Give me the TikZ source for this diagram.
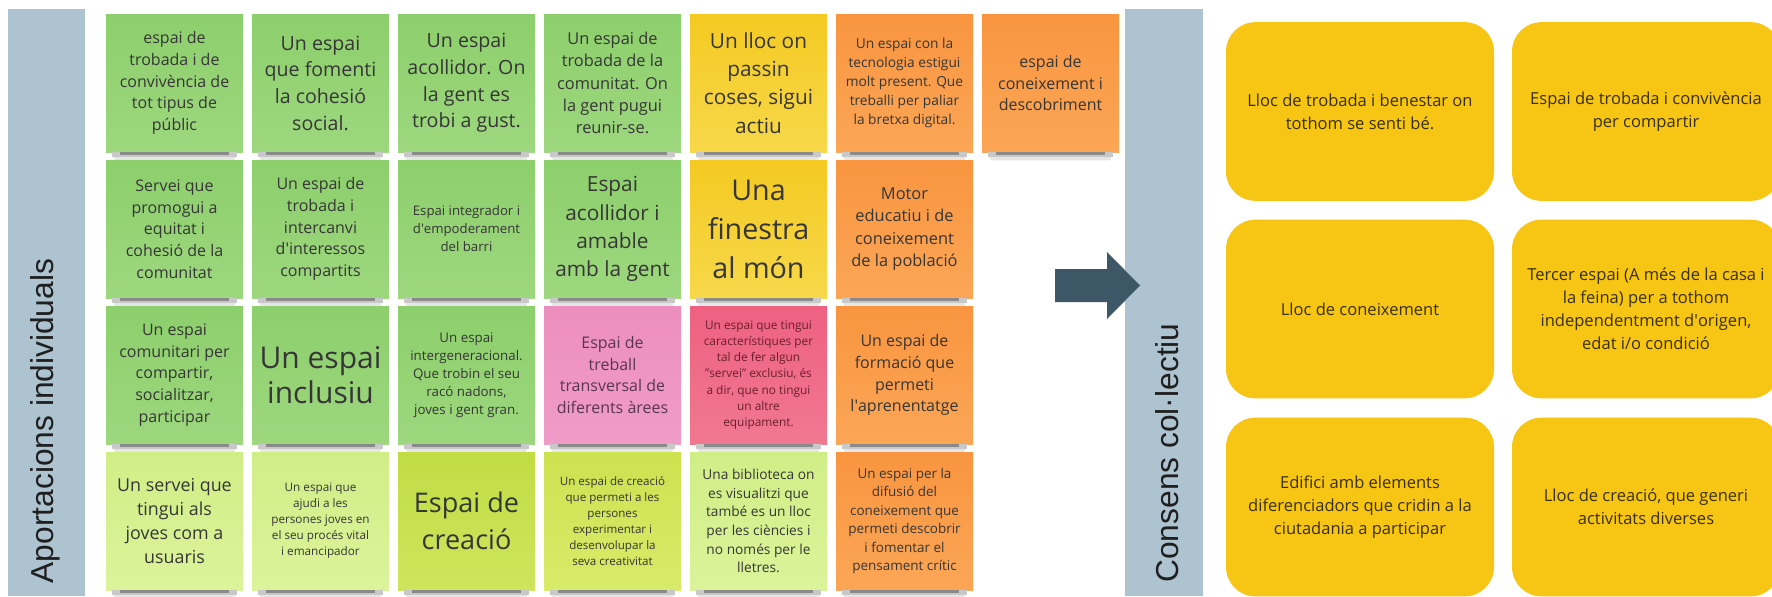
\documentclass[tikz,border=0pt]{standalone}
\usepackage{fontspec}
\setmainfont{Open Sans}
\newfontfamily\lblfont{Liberation Sans}
\usetikzlibrary{calc}

\definecolor{barc}{HTML}{AEC3D0}
\definecolor{arrowc}{HTML}{3E5766}
\definecolor{boxc}{HTML}{F7C513}
\definecolor{boxtext}{HTML}{3A3000}
\definecolor{ntext}{HTML}{363636}
\definecolor{ptext}{HTML}{5A3552}
\definecolor{rtext}{HTML}{6A1F2E}
\definecolor{gtop}{HTML}{8DCF6C}\definecolor{gbot}{HTML}{9DD77E}
\definecolor{ytop}{HTML}{F4CA22}\definecolor{ybot}{HTML}{F7D84A}
\definecolor{otop}{HTML}{F9953F}\definecolor{obot}{HTML}{FBA656}
\definecolor{ptop}{HTML}{EC8EBE}\definecolor{pbot}{HTML}{F09CC8}
\definecolor{rtop}{HTML}{EE6181}\definecolor{rbot}{HTML}{F17891}
\definecolor{ltop}{HTML}{D0EE86}\definecolor{lbot}{HTML}{DBF39A}
\definecolor{ctop}{HTML}{C2DC44}\definecolor{cbot}{HTML}{CEE55C}
\definecolor{dtop}{HTML}{CCE24F}\definecolor{dbot}{HTML}{D8EB6A}
\definecolor{shadowA}{HTML}{8A8A8A}
\definecolor{shadowB}{HTML}{C8C8C8}
\definecolor{shadowC}{HTML}{E6E6E6}

\newcommand{\q}{\textquotesingle}

% name, col, row, colour prefix, {size}{skip}, text, text colour
\newcommand{\stick}[7]{%
  \node[stickynote, top color=#4top, bottom color=#4bot, text=#7,
        font=\fontsize#5\selectfont]
       (#1) at ({174.5+146*(#2-1)},{83+146*(#3-1)}) {#6};
  \fill[shadowC, rounded corners=2pt] ($(#1.south west)+(8,0)$) rectangle ($(#1.south east)+(-8,8)$);
  \fill[shadowB] ($(#1.south west)+(6,0)$) rectangle ($(#1.south east)+(-6,5)$);
  \fill[shadowA] ($(#1.south west)+(14,0)$) rectangle ($(#1.south east)+(-14,2.5)$);
}

\begin{document}
\begin{tikzpicture}[x=0.75pt, y=-0.75pt,
  stickynote/.style={rectangle, inner sep=0pt, minimum width=102.75pt,
     minimum height=103.5pt, align=center},
  ybox/.style={rectangle, rounded corners=22pt, fill=boxc, minimum width=201pt,
     minimum height=134pt, inner sep=0pt, align=center, text=boxtext,
     font=\fontsize{12.4}{17.2}\selectfont},
  sidebar/.style={rectangle, fill=barc, inner sep=0pt, minimum height=440.25pt},
  sidelabel/.style={rotate=90, anchor=base, text=black!88,
     font=\lblfont\fontsize{23.8}{28}\selectfont}]
\useasboundingbox (0,0) rectangle (1772,596);
\clip (0,0) rectangle (1772,596);
\fill[white] (0,0) rectangle (1772,596);

% side bars
\node[sidebar, minimum width=57.75pt] (lbar) at (46.5,302.5) {};
\node[sidebar, minimum width=58.5pt] (rbar) at (1164,302.5) {};
\node[sidelabel] (lblA) at (53,421) {Aportacions individuals};
\node[sidelabel] (lblC) at (1178,453) {Consens col·lectiu};

% arrow
\fill[arrowc] (1055,269) -- (1107,269) -- (1107,252) -- (1140,285.5)
  -- (1107,319) -- (1107,302) -- (1055,302) -- cycle;

% row 1
\stick{n11}{1}{1}{g}{{12}{16.3}}{espai de\\trobada i de\\convivència de\\tot tipus de\\públic}{ntext}
\stick{n12}{2}{1}{g}{{14.7}{20}}{Un espai\\que fomenti\\la cohesió\\social.}{ntext}
\stick{n13}{3}{1}{g}{{14.7}{20}}{Un espai\\acollidor. On\\la gent es\\trobi a gust.}{ntext}
\stick{n14}{4}{1}{g}{{12.3}{16.7}}{Un espai de\\trobada de la\\comunitat. On\\la gent pugui\\reunir-se.}{ntext}
\stick{n15}{5}{1}{y}{{15.6}{21.2}}{Un lloc on\\passin\\coses, sigui\\actiu}{ntext}
\stick{n16}{6}{1}{o}{{10.3}{14.1}}{Un espai con la\\tecnologia estigui\\molt present. Que\\treballi per paliar\\la bretxa digital.}{ntext}
\stick{n17}{7}{1}{o}{{12}{16.3}}{espai de\\coneixement i\\descobriment}{ntext}

% row 2
\stick{n21}{1}{2}{g}{{12}{16.3}}{Servei que\\promogui a\\equitat i\\cohesió de la\\comunitat}{ntext}
\stick{n22}{2}{2}{g}{{12}{16.3}}{Un espai de\\trobada i\\intercanvi\\d\q interessos\\compartits}{ntext}
\stick{n23}{3}{2}{g}{{9.9}{13.5}}{Espai integrador i\\d\q empoderament\\del barri}{ntext}
\stick{n24}{4}{2}{g}{{15.6}{21.2}}{Espai\\acollidor i\\amable\\amb la gent}{ntext}
\stick{n25}{5}{2}{y}{{21.5}{29.3}}{Una\\finestra\\al món}{ntext}
\stick{n26}{6}{2}{o}{{12.3}{16.7}}{Motor\\educatiu i de\\coneixement\\de la població}{ntext}

% row 3
\stick{n31}{1}{3}{g}{{12}{16.3}}{Un espai\\comunitari per\\compartir,\\socialitzar,\\participar}{ntext}
\stick{n32}{2}{3}{g}{{22.5}{26.3}}{Un espai\\inclusiu}{ntext}
\stick{n33}{3}{3}{g}{{10}{13.6}}{Un espai\\intergeneracional.\\Que trobin el seu\\racó nadons,\\joves i gent gran.}{ntext}
\stick{n34}{4}{3}{p}{{12}{16.3}}{Espai de\\treball\\transversal de\\diferents àrees}{ptext}
\stick{n35}{5}{3}{r}{{8.9}{12.2}}{Un espai que tingui\\característiques per\\tal de fer algun\\"servei" exclusiu, és\\a dir, que no tingui\\un altre\\equipament.}{rtext}
\stick{n36}{6}{3}{o}{{12}{16.4}}{Un espai de\\formació que\\permeti\\l\q aprenentatge}{ntext}

% row 4
\stick{n41}{1}{4}{l}{{13.4}{18.2}}{Un servei que\\tingui als\\joves com a\\usuaris}{ntext}
\stick{n42}{2}{4}{l}{{8.8}{12}}{Un espai que\\ajudi a les\\persones joves en\\el seu procés vital\\i emancipador}{ntext}
\stick{n43}{3}{4}{c}{{20.3}{27.5}}{Espai de\\creació}{ntext}
\stick{n44}{4}{4}{d}{{8.7}{11.9}}{Un espai de creació\\que permeti a les\\persones\\experimentar i\\desenvolupar la\\seva creativitat}{ntext}
\stick{n45}{5}{4}{l}{{10.3}{14}}{Una biblioteca on\\es visualitzi que\\també es un lloc\\per les ciències i\\no només per le\\lletres.}{ntext}
\stick{n46}{6}{4}{o}{{10.1}{13.8}}{Un espai per la\\difusió del\\coneixement que\\permeti descobrir\\i fomentar el\\pensament crític}{ntext}

% consensus boxes
\node[ybox] (b11) at (1360,111.5) {Lloc de trobada i benestar on\\tothom se senti bé.};
\node[ybox] (b12) at (1646,111.5) {Espai de trobada i convivència\\per compartir};
\node[ybox] (b21) at (1360,309) {Lloc de coneixement};
\node[ybox] (b22) at (1646,309) {Tercer espai (A més de la casa i\\la feina) per a tothom\\independentment d\q origen,\\edat i/o condició};
\node[ybox] (b31) at (1360,507) {Edifici amb elements\\diferenciadors que cridin a la\\ciutadania a participar};
\node[ybox] (b32) at (1646,507) {Lloc de creació, que generi\\activitats diverses};
\end{tikzpicture}
\end{document}
